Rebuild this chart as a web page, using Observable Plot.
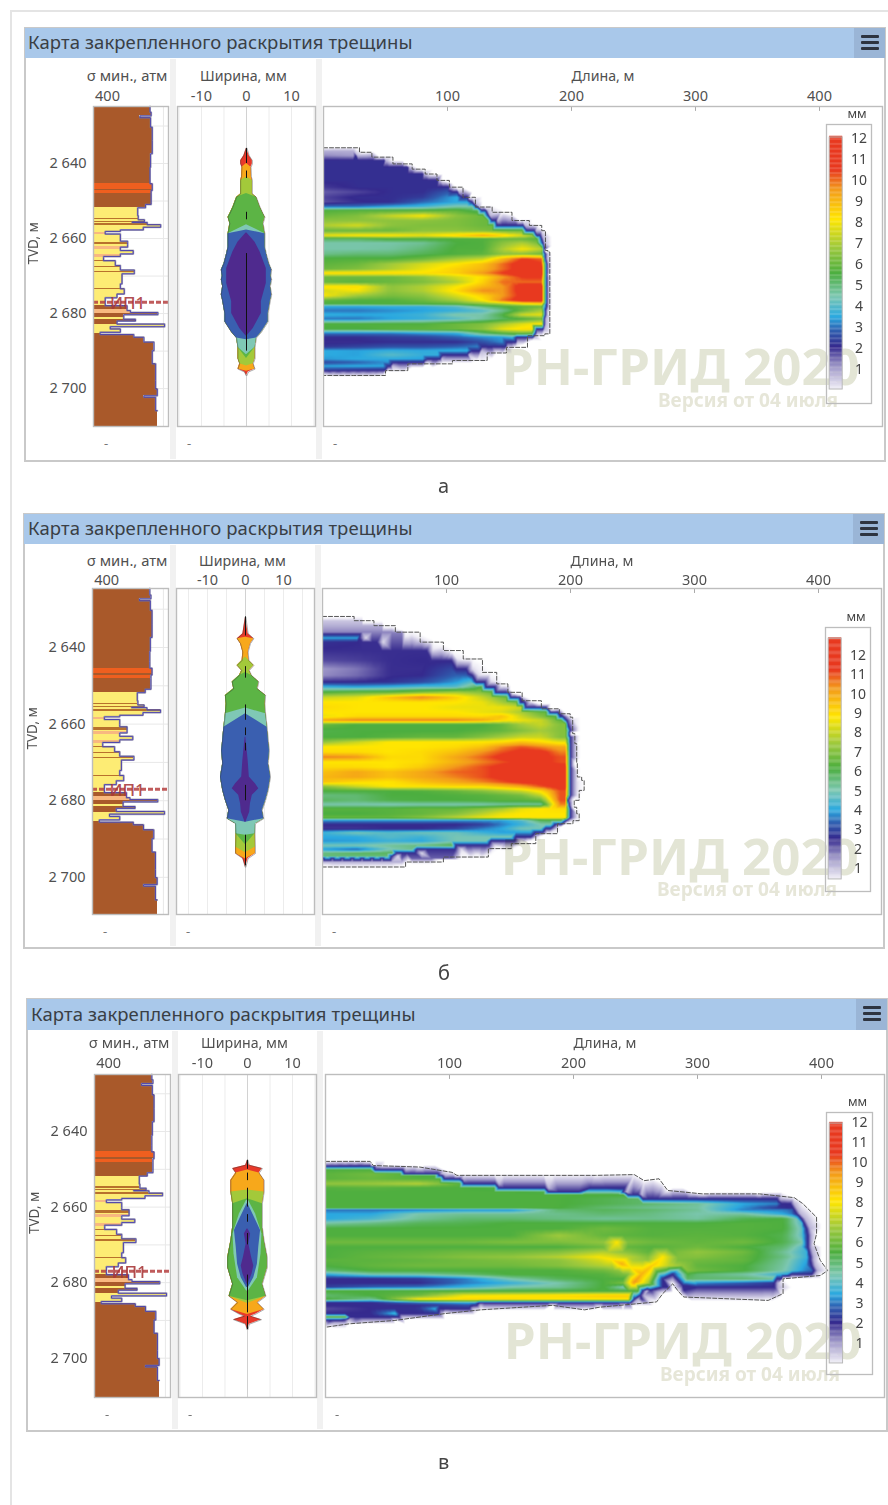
<!DOCTYPE html>
<html lang="ru"><head><meta charset="utf-8">
<script src="https://cdn.jsdelivr.net/npm/d3@7"></script>
<script src="https://cdn.jsdelivr.net/npm/@observablehq/plot@0.6"></script>
<style>
html,body{margin:0;padding:0;background:#fff}
#page{position:relative;width:888px;height:1505px;overflow:hidden;font-family:"Noto Sans",sans-serif;color:#444;filter:blur(.35px)}
#page>*{position:absolute}
.plotbox{position:absolute}
.plotbox svg{display:block;overflow:visible}
</style></head><body><div id="page"></div>
<script>
// ---------- well log (same well on all three maps) ----------
const sigmaDepth=[2624,2625.2,2626.3,2627.3,2627.8,2630.3,2633.9,2637.4,2641,2643.6,2645.4,2647.2,2650.3,2650.9,2651.8,2653.9,2655,2655.6,2655.7,2656.3,2657,2657.7,2658.1,2658.8,2660.1,2660.7,2662.3,2663.2,2664.1,2664.8,2665.9,2667.2,2668.4,2669.4,2672.1,2673.4,2674.8,2675.8,2677,2677.9,2679.2,2679.7,2680.3,2681.5,2682,2682.8,2683.5,2684.1,2685,2685.6,2686.3,2687.6,2689.9,2693.4,2697.9,2700.1,2701.9,2702.3,2705.9,2711];
const sigmaAtm=[476,476,478,458,477,480,480,477,476,476,480,478,478,468,454,455,466,444,471,495,464,423,396,423,423,436,423,446,423,393,414,423,448,426,423,430,417,396,396,435,441,490,429,450,417,502,405,423,387,447,465,483,480,486,486,489,465,486,489,492];
const lithTop=[2624,2645.4,2646.8,2647.3,2648.1,2651.8,2654.6,2655,2655.4,2655.7,2656.1,2656.6,2658.3,2658.9,2661,2661.6,2662,2662.8,2664.3,2665.1,2665.9,2666.1,2667.5,2667.8,2668.7,2669,2673.3,2673.6,2677.9,2679,2680,2681,2681.6,2683,2685.3];
const lithColor=["#a9592a","#ef5f1f","#a9592a","#ef5f1f","#a9592a","#fdec74","#b8712c","#fdec74","#b8712c","#fdec74","#b8712c","#fdec74","#f8b880","#fdec74","#b8712c","#fdec74","#f8b880","#fdec74","#f8b880","#fdec74","#b8712c","#fdec74","#b8712c","#fdec74","#b8712c","#fdec74","#b8712c","#fdec74","#a9592a","#f8b880","#a9592a","#fdec74","#a9592a","#fdec74","#a9592a"];
const depthTicks=[2640,2660,2680,2700], depthGrid=[2630,2640,2650,2660,2670,2680,2690,2700];
const widthTicks=[-10,0,10], widthGrid=[-15,-10,-5,5,10,15], lengthTicks=[100,200,300,400], lengthMarks=[0,100,200,300,400];
const legendTicks=[1,2,3,4,5,6,7,8,9,10,11,12];
// ---------- colour bar ----------
const rampFraction=[0,.086,.166,.23,.285,.364,.457,.56,.67,.79,.867,1];
const rampColor=["#eeecf5","#9f98c9","#352a8e","#2f5fb0","#2ba9e0","#7cc7b2","#4cae3f","#9ec93c","#ffe600","#f39a1b","#e8391f","#e8391f"];
const layerColor=["#e8392a","#f7a81b","#a3c93a","#5cb445","#7fc8b5","#3a5fb0","#4f2a8e"];
// ---------- width profiles: [depth, half width mm] ----------
const outlineA=[[2635.9,.1],[2637.9,.6],[2639.2,1.3],[2640.1,1.3],[2641,1],[2643.6,1.1],[2644.5,1.3],[2648.1,1.3],[2649,2.2],[2651.6,3],[2653.4,3.7],[2654.3,4.1],[2656,3.7],[2658.7,4.1],[2660,4.1],[2662.3,4.1],[2664,4.4],[2666.7,5],[2668.4,5.6],[2670,5.4],[2671,5.6],[2672.8,5.3],[2675,5.6],[2676.6,5.3],[2680,4.8],[2682.2,4.8],[2685,3.3],[2686.5,2.2],[2689,1.9],[2692,1.9],[2693.4,1.5],[2694.8,1.9],[2695.6,.4],[2696.5,.1]];
const bandTopA=[2635.9,2640,2643.6,2648,2656.3,2657.7], bandBottomA=[2696.5,2695.4,2694,2692,2691,2687];
const coreA=[[2658.5,.1],[2661,1.9],[2663.5,3],[2668,4.4],[2672,4.4],[2676.8,3.3],[2680,3.3],[2684,1.5],[2686,.1]];
const stemA=[[2636,2640],[2642,2644],[2653,2655],[2664,2690]];
const outlineB=[[2632.1,.1],[2636.4,.7],[2637.7,2.2],[2639,1.3],[2641.2,.7],[2643.4,.9],[2644.7,2.2],[2646,1],[2647.3,1.6],[2649,3.5],[2650.8,3.1],[2652.5,5.3],[2654.7,5.1],[2657.3,5.3],[2660.8,5.7],[2665.1,6.1],[2666.9,6.3],[2670.3,6],[2673.8,6.6],[2677.3,6],[2679.9,5.3],[2682.5,4.4],[2684.7,4.8],[2686,2.6],[2688.6,2.5],[2692.1,2.6],[2693.8,2.6],[2695.1,.7],[2697.3,.1]];
const bandTopB=[2632.1,2637.3,2642.5,2646.5,2655.8,2657.3], bandBottomB=[2697.3,2695.2,2693.6,2691.5,2689,2685.6];
const coreB=[[2663.4,.1],[2669.5,.7],[2673.8,1],[2675.6,2.6],[2676.9,3.5],[2678.6,1.8],[2680.8,1.3],[2683,1.1],[2685.6,.1]];
const stemB=[[2632,2637],[2645,2648],[2655,2659],[2661,2663],[2665,2667],[2676,2680],[2689,2697]];
const outlineC=[[2647.6,.1],[2648.9,.4],[2649.8,3.3],[2651,2.6],[2652.9,3.7],[2656,3.7],[2659.1,3.3],[2665.3,3.3],[2668.9,3.7],[2673.3,4.4],[2676,4.4],[2680.4,3.3],[2683.6,4.1],[2685.3,2.2],[2687.1,3.7],[2688.3,1.9],[2688.9,.7],[2689.8,3.1],[2691,.4],[2692.4,.1]];
const bandTopC=[2647.6,2650.2,2655.5,2657.8], bandBottomC=[2692.4,2688.4,2685.5,2684.8];
const tealC=[[2658.2,.2],[2661.8,1.8],[2667.1,3.2],[2672.4,3],[2678.7,2.2],[2682.2,.2]];
const blueC=[[2659.1,.1],[2663.6,1.9],[2666.2,2.9],[2670.7,2.5],[2675.1,2.2],[2678.7,1.4],[2681.3,.2]];
const coreC=[[2665.8,.1],[2667.1,.7],[2669.8,.3],[2673.3,.9],[2675.6,1.4],[2677.8,1],[2680.4,.1]];
const stemC=[[2647.6,2650],[2651,2653],[2655,2660],[2662,2664],[2667,2670],[2678,2688],[2689,2692.4]];
// ---------- proppant map a ----------
const stationsA=[0,27,54,80,107,129,145,161,177];
const depthA=[2636.7,2637.9,2639.2,2641,2642.8,2644.5,2646.3,2647.6,2649,2650.3,2651.5,2652.5,2653.9,2655.2,2656.5,2657.9,2659.2,2660.1,2661.2,2662.8,2664.1,2665.4,2666.8,2668.1,2669.2,2670.3,2671.6,2672.8,2673.9,2675.2,2676.5,2677.4,2678.1,2679.2,2680.3,2681.4,2682.8,2684.1,2685.3,2686.3,2687.6,2688.8,2689.9,2691,2692.1,2693,2694,2695,2695.8];
const tipA=[0,26,49,68,80,92,101,108,116,120,124,131,133,139,161,170,175,176,177,178,179,179,180,180,180,180,180,180,180,180,180,180,180,179,179,178,178,177,171,169,155,147,126,116,94,81,54,50,0];
const gridA=[[.8],[1.2,1],[2.1,2.1],[2.1,2.1,2.1],[2.1,2.1,2.1],[2.1,2.1,2.1,2.1],[1.9,2.1,2.1,2.1],[1.6,1.8,2.1,2.1,2.9],[1.8,2.1,2.1,2.3,3.5],[1.7,2,2.1,2.9,3.5],[3,3,3.5,3.8,4.5],[5.6,5.7,5.6,5.6,5.8,5],[6,6.3,7.3,8,6.5,6],[6.5,6.5,6.5,6.5,6.3,6],[7,7.5,6.5,6.3,6.3,6,6,5.8],[6,6,6,6.5,6.5,6.3,6,6,5.5],[7.8,8.1,8.1,7.8,8.5,9.3,8.5,7.5,6],[5.2,5.2,5.6,5.6,5.6,5.6,6,6,5.6],[4.5,4.5,4.5,4.7,5.5,5.6,6.5,7,6],[4.5,4.5,4.6,5,5.6,5.6,7,8,7],[4.8,5,5,5.3,5.6,5.8,6.5,6.5,6],[5.6,5.6,5.6,6,6.8,7.3,9,10.5,10],[5.8,6,6.8,7.5,8.1,8.8,10,11,10.5],[6,6.3,7,7.8,8.5,9,10,11,11],[8.3,8.3,8.3,8.2,8.5,9.5,10.5,11,11],[6,6,6,6.5,7.5,8.2,9.5,10.5,10.5],[6,5.8,6,6.3,7,8.5,10,10,10],[8.2,8.3,6.5,7,8,9,9.5,11,11],[7.5,8,6.5,7,8.3,9.7,9.5,11,11],[8,6.8,6.2,6.5,7.6,8.5,9.5,10.8,11],[5.8,5.6,5.6,6,6.8,8.1,10,11,11],[5.5,5.5,5.6,5.6,5.8,6.5,7,8.1,8.5],[3.5,3.5,3.6,3.6,4,5,5.5,5.8,6],[3,3,3.2,3.4,3.6,4,4.8,6,7],[3.6,3.5,3.5,3.7,4.5,4.5,5.5,7.5,7.8],[3,3,3.4,3.6,4,4.6,5.2,5.6,6.2],[5.6,5.6,5.6,5.6,6,6.3,7,7.7,8.2],[5.5,5.5,5.7,5.8,6,6.5,7.8,8.3,8.3],[3,3,3,3.3,3.5,5,5.6,6,5.5],[2.1,2.1,2.3,2.4,2.8,3.2,3.4,4.2,5],[2,2,2.1,2.1,2.1,2.6,3.2,3.4],[2.2,2.4,2.6,2.6,2.8,3.2,3.6],[3.5,3.4,3.6,3.5,3.6,3.5],[3.5,3.4,4,3.6,3.6],[3.3,3.5,3.5,3.4],[2.5,2.8,3.3,3.4],[3.4,3.5,3.4],[2.5,2.3,2.2],[1]];
const dashA=[[0,2635.8],[26,2635.8],[32,2637],[46,2638.3],[66,2640.1],[77,2641.5],[87,2642.8],[96,2644.5],[107,2646.3],[118,2649],[127,2651.6],[145,2653],[159,2655.2],[173,2656.5],[179,2657.9],[179,2663.2],[183,2663.6],[182,2669.4],[183,2673],[182,2680.1],[183,2685.4],[174,2685.9],[155,2689],[140,2690.5],[124,2692.5],[84,2693.4],[52,2695.2],[48,2696.5],[0,2696.5]];
// ---------- proppant map b ----------
const stationsB=[0,27,54,80,107,129,145,161,177,191];
const depthB=[2633,2634.3,2636,2637.5,2638.6,2640.8,2643.4,2645.6,2647.3,2649,2650.3,2651.7,2653,2654.3,2655.6,2656.9,2658,2659,2660.1,2661.7,2663.4,2664.7,2666,2667.3,2668.6,2669.9,2671.2,2672.5,2673.8,2675.1,2676.3,2677.5,2678.6,2679.9,2681,2682.1,2683.4,2684.4,2685.1,2686.2,2687.3,2688.3,2689.5,2690.5,2691.7,2692.7,2693.7,2694.5,2695.1,2696];
const tipB=[0,0,0,30,44,84,104,116,121,131,139,150,159,163,182,190,194,197,198,200,200,200,200,200,200,200,200,200,200,200,200,200,200,198,199,200,200,200,197,193,184,178,168,155,134,107,75,56,0,0];
const gridB=[[.9],[1.2],[1.7],[3.9,3.9],[2.6,2.5],[2.46,2.46,2.46,3.9],[2.2,2.3,2.46,2.5],[1.5,1.8,2.46,2.46,3],[1.6,1.9,2.46,2.5,3.3],[2.5,2.5,2.6,3,3.8,5],[4.2,4,4.2,4.5,4.5,6.1,6.1],[6.2,6.5,6.5,7,7.5,7,6.1],[8,8.3,9.5,10.5,9.3,8,6.8,6],[8.8,8.8,8.8,8.8,8.8,8.5,7.5,6.5],[9,8.8,8.8,8.8,8.5,8.5,8.5,8,7],[8.8,8.8,8.8,8.8,8.8,8.5,8.3,7.5,6.5],[8.5,9,9,9,9,9,9.5,8,7,6],[10,10.5,10.5,10.5,10.5,10,9,8.5,8,6.5],[6.6,6.1,6.1,6.1,6.1,6.1,6.5,7.5,8,7],[6,6.1,6.1,6.1,6.1,6.3,6.5,7,7.5,7],[6.1,6.1,6.3,6.5,6.5,7,7.5,8,8,7],[7.2,8,8.8,8.8,8.8,8.8,9,9.5,9,8.5],[8.8,8.8,8.8,8.8,9,9.5,10.5,11,10.5,10],[9,9,8.8,9,9.5,10.3,11,11.5,11.5,10.5],[10.5,10.3,9,9,10,10.8,11.5,11.5,11.5,11],[8.8,8.8,8.8,9,9.8,10.5,11,11.5,11.5,11],[9,9,8.8,9.3,10.3,11,11.5,11.5,11.5,11.5],[9.5,10,9.5,10,10.8,11,11.5,11.5,11.5,11.5],[9.7,10,9.5,10,10.5,11,11.5,11.5,11.5,11.5],[9.5,9,8.8,9.5,10,10.5,11,11.5,11.5,11.5],[7,8,8.8,8.8,9,9,9.5,10,11,11.5],[6.1,6.1,6.1,6.2,6.5,7,7.5,8,9,11],[5.5,5.6,6.1,6.1,6.2,6.3,6.5,6.8,8,11],[5.8,5.6,6,6.1,6.1,6.2,6.3,6.3,6.5,11],[5,5,4.9,5,5,5,5.2,5.2,5.2,10.5],[6.3,6.3,6.3,6.5,6.5,7,7.5,8.5,8.8,9],[6.1,6.1,6.3,6.5,7,7.8,8.5,8.8,8.8,8.8],[6.5,6.5,6.5,7,7.8,8.5,8.8,8.8,8.8,8.8],[3.9,3.9,3.9,3.9,3.9,3.9,3.9,4.5,6],[2.5,2.5,2.5,2.5,2.46,2.8,3.6,4.2,5],[2.4,2.4,2.5,2.5,2.9,3.6,4,4.9],[4.2,4.9,4.5,4.8,4.8,4.2,3.9],[4,4,4.5,4.2,4.9,4.9],[3.8,3.9,4.2,4,4.9,4.9,5],[4.9,4.9,5.2,5.5,6],[3.9,3.3,4.9,5.5],[5.5,5.8,5.8],[5.5,5.5],[2],[1.2]];
const dashB=[[0,2631.9],[18,2631.9],[33,2633],[50,2634.3],[67.5,2636],[90,2638.6],[105,2640.8],[122,2643],[136,2646.5],[145,2649.5],[154,2651.7],[168,2653.9],[185,2656],[197,2657.3],[202.5,2658.2],[201,2662.5],[206,2665.1],[204,2670.3],[207,2673.8],[211,2674.7],[211,2677.3],[203,2679.9],[203,2681.7],[207,2683.4],[207,2685.2],[197,2686],[182,2688.6],[162,2691.2],[142.5,2692.5],[125,2694.7],[70,2696],[64,2697.3],[0,2697.3]];
// ---------- proppant map c ----------
const stationsC=[0,37.5,75,112.5,150,187.5,225,262.5,300,337.5,370,391];
const depthC=[2648.6,2649.2,2650.1,2651.2,2651.6,2652.5,2653.8,2654.9,2656,2656.7,2657.8,2659.1,2660.2,2660.7,2661.8,2663.1,2664.3,2665.7,2667.5,2669.3,2670.6,2671.9,2673.2,2674.1,2675.5,2676.8,2677.8,2679,2680.1,2681.2,2682.2,2683.4,2684.4,2685.3,2686,2686.9,2688.2,2689.1,2689.8,2690.6];
const tipC=[0,39,62,91,94,108,137,177,240,252,364,375,377,378,380,384,386,388,389,389,389,390,391,391,392,394,392,375,362,362,256,254,249,246,122,116,91,59,16,0];
const gridC=[[1],[2,2.2],[5.5,5.5],[5.7,6,5.5],[5.7,6,5.5],[5.7,5.9,5.6,5.5],[6.5,6.6,7,5.5,5.5],[5.6,5.7,5.5,5.5,5.3,5.5],[5.5,5.5,5.5,5.5,5.5,5.3,5.5],[5.5,5.5,5.5,5.5,5.5,5.5,5.5],[5.5,5.5,5.5,5.5,5.5,5.5,5.3,5,2.4,2,2],[5.5,5.5,5.5,5.5,5.5,5.5,5.3,5,4.6,3.4,3,2.2],[5.5,5.5,5.5,5.5,5.5,5.5,5,4.7,4.5,3.2,2,2],[2.9,2.9,3,3.2,3.2,5,5.2,5,4.6,3,3,2],[3.4,3.4,4.4,4.6,4.6,4.7,5,4.8,4.4,4.5,3.4,2],[3.4,3.8,4.6,5,5,4.8,4.6,4.7,4.5,5.3,5.5,2.8],[4.5,4.8,5.2,5.3,5.5,5.5,5.5,5.5,5.5,5.6,5.5,3],[5.5,5.5,5.5,5.5,5.5,5.5,6,5.6,5.6,5.6,5.5,3.4],[5.5,5.5,5.5,5.5,5.5,6.7,5.8,5.6,5.7,5.6,5.3,3.4],[6,6,6,6,6.2,6.2,6.5,6,5.8,6,5.3,4],[5.5,5.5,5.5,5.5,5.5,5.5,6,5.6,6,5.5,5,3.4],[5.5,5.7,5.8,6,6,6.3,7,5.7,6.5,6,4.6,3.4],[5.5,5.8,6,6.3,6.5,7,8,6.2,6.3,5.8,4.8,3.4],[5.7,5.7,5.8,6,6.2,6.4,7.5,6.5,6,5.8,4.6,3.2],[5.5,5.8,6,6,6,6.3,7,8,5.8,5.5,4.5,3],[5,5.5,5.5,5.5,5.5,5.5,6,7.5,6,5.5,4.4,2.8],[3.5,4.4,4.5,5,5.5,5.5,5.6,7,5,4.5,3.5,2.2],[2,2,2.2,3,4.4,5.2,5.5,5.5,5,5,4.5,2],[2,2,2,3,3.6,4.4,5.5,7,3.2,2.7,2],[2.3,2.8,3,3.6,4.4,4.6,5.5,2.5,2,2,2],[5.5,5.5,5.5,5.5,5.5,5.5,5.5],[5,5.5,6,7.8,8,8.2,8.5],[5.5,4.6,8,8.3,8.2,8,8],[2,2,3,3.5,3.4,3.2,3],[2,2,2,2.5],[1.7,2,2.1,6],[2,2,5.5],[5.5,5.5],[2.5],[.8]];
const dashC=[[0,2647.9],[36,2647.9],[38.6,2649],[76,2649.4],[102,2650.8],[106,2651.6],[217.5,2651.6],[249,2651.4],[257,2653],[269,2652.5],[276,2655.6],[304,2656.5],[350,2656.5],[378,2657.5],[385,2659.1],[396,2662.7],[396,2667.1],[394,2669.7],[399,2674.1],[405,2676.8],[399,2678.1],[369,2679],[369,2682.9],[357,2684.7],[289,2683.8],[285,2682.5],[280,2680.3],[272,2682.9],[267,2685.1],[221,2686.5],[209,2687.2],[183,2686],[125,2687.2],[96,2688.2],[56,2690],[19,2690.9],[0,2691.8]];
const extraC=[[280,2677.7,2.2],[272,2679,2],[262.5,2682,2],[255,2684.3,2],[288,2680.7,2],[289,2682,2],[214,2654.9,2],[226,2654.9,2],[240.5,2655.2,2.2],[239,2675,9],[230,2673.8,8],[246,2676,8],[235,2669.3,8],[255,2677.7,9],[263.5,2675.5,8.5],[272,2673.2,8],[249,2679.9,9.5]];

const fontFamily='"Noto Sans",sans-serif', inkColor="#505050", frameColor="#bdbdbd", outsideValue=-.2;
const tickFmt=d=>String(d).replace(/(\d)(\d{3})$/,"$1 $2");
const band=(sil,top,bot)=>[[top,0],...sil.filter(p=>p[0]>top+.3&&p[0]<bot-.3),[bot,0]];
const page=document.getElementById("page");
function box(css,text){const e=document.createElement("div");e.style.cssText="position:absolute;"+css;if(text)e.textContent=text;page.appendChild(e);return e}
function mount(svg,left,top){const w=document.createElement("div");w.className="plotbox";w.style.left=left+"px";w.style.top=top+"px";w.appendChild(svg);page.appendChild(w)}
const baseStyle=()=>({background:"transparent",fontFamily,fontSize:"14.5px",color:inkColor});

function colorScale(lo,hi){return{type:"linear",clamp:true,domain:[outsideValue,...rampFraction.map(f=>lo+f*(hi-lo))],range:["#ffffff",...rampColor]}}

function logTrack(p){
  const knots=[...new Set([...sigmaDepth,...lithTop,p.dTop,p.dBot])].filter(d=>d>=p.dTop&&d<=p.dBot).sort(d3.ascending);
  const segs=d3.pairs(knots).map(([a,b])=>({a,b,atm:sigmaAtm[d3.bisectRight(sigmaDepth,a)-1],fill:lithColor[d3.bisectRight(lithTop,a)-1]}));
  const curve=segs.map(s=>[s.atm,s.a]);
  const left=p.logL-72,mt=p.top-p.axisTop;
  mount(Plot.plot({width:p.logR-left+1,height:p.bottom-p.axisTop+1,marginLeft:p.logL-left,marginRight:1,marginTop:mt,marginBottom:1,style:baseStyle(),
    x:{domain:[375,509],axis:null},y:{domain:[p.dBot,p.dTop],axis:null},color:{type:"identity"},
    marks:[
      Plot.ruleY(depthGrid,{stroke:"#e8e8e8"}),Plot.ruleX([500],{stroke:"#e8e8e8"}),
      Plot.rect(segs,{x1:()=>375,x2:"atm",y1:"a",y2:"b",fill:"fill",shapeRendering:"crispEdges"}),
      Plot.line(curve,{x:"0",y:"1",curve:"step-before",stroke:"#807f8c",strokeWidth:2,strokeOpacity:.6}),
      Plot.line(curve,{x:"0",y:"1",curve:"step-before",stroke:"#4f45ad",strokeWidth:1}),
      Plot.ruleY([2677],{stroke:"#b5403f",strokeWidth:3,strokeDasharray:"5,2",strokeOpacity:.85}),
      Plot.text(["ИП1"],{x:()=>436,y:()=>2677.3,fill:"#a8383a",fontSize:17,fontWeight:500,fillOpacity:.9}),
      Plot.frame({stroke:frameColor,strokeWidth:1.4}),
      Plot.axisX({anchor:"top",ticks:[400],tickSize:0,tickPadding:p.tickPad,label:null,tickFormat:String}),
      Plot.axisY({anchor:"left",ticks:depthTicks,tickSize:0,tickPadding:7,label:null,tickFormat:tickFmt}),
      Plot.text(["σ мин., атм"],{frameAnchor:"top-right",dy:p.labDy,dx:-1,fontSize:14.8}),
      Plot.text(["TVD, м"],{frameAnchor:"left",rotate:-90,dx:-60,dy:-2,fontSize:13.5})
    ]}),left,p.axisTop);
}
function widthTrack(p){
  const area=(pts,fill)=>Plot.areaX(pts,{y:d=>d[0],x1:d=>-d[1],x2:d=>d[1],fill});
  mount(Plot.plot({width:p.wR-p.wL+2,height:p.bottom-p.axisTop+1,marginLeft:1,marginRight:1,marginTop:p.top-p.axisTop,marginBottom:1,style:baseStyle(),
    x:{domain:p.wDom,axis:null},y:{domain:[p.dBot,p.dTop],axis:null},
    marks:[
      Plot.ruleX(widthGrid,{stroke:"#ececec"}),Plot.ruleX([0],{stroke:"#d2d2d2"}),
      ...p.layers.map(l=>area(l[0],l[1])),
      Plot.lineX(p.sil,{x:d=>d[1],y:d=>d[0],stroke:"#3a3a3a",strokeWidth:.6,strokeOpacity:.7}),
      Plot.lineX(p.sil,{x:d=>-d[1],y:d=>d[0],stroke:"#3a3a3a",strokeWidth:.6,strokeOpacity:.7}),
      Plot.ruleX(p.stem,{x:()=>0,y1:"0",y2:"1",stroke:"#111",strokeWidth:1}),
      Plot.frame({stroke:frameColor,strokeWidth:1.4}),
      Plot.axisX({anchor:"top",ticks:widthTicks,tickSize:0,tickPadding:p.tickPad,label:null,tickFormat:String}),
      Plot.text(["Ширина, мм"],{frameAnchor:"top",dy:p.labDy,dx:-3,fontSize:14.2})
    ]}),p.wL-1,p.axisTop);
}
function mapTrack(p){
  const pts=[],inside=(x,y)=>d3.polygonContains(p.dash,[x,y]);
  const extra=p.extra||[];
  const nearExtra=(x,y)=>extra.some(q=>Math.abs(q[0]-x)<9&&Math.abs(q[1]-y)<1.4);
  p.depths.forEach((d,i)=>{
    const tip=p.tips[i],row=p.grid[i];
    if(!tip){for(let x=0;x<450;x+=8)if(inside(x,d))pts.push({x,y:d,v:row[0]});return}
    // a part of the row with no coloured row next to it lies on the fracture edge
    const limit=Math.min(p.tips[i-1]||Infinity,p.tips[i+1]||Infinity);
    const along=d3.scaleLinear(p.stations.slice(0,row.length),row).clamp(true);
    // the raster mesh follows each row closely, so the read values vary along the rows and not across them
    for(let x=0;x<tip-1;x+=4){
      if(inside(x,d)&&!nearExtra(x,d))pts.push({x,y:d,v:x>limit?p.edge:(row.length>1?along(x):row[0])});
    }
    if(inside(tip,d))pts.push({x:tip,y:d,v:p.edge});
    if(inside(tip+p.fade,d))pts.push({x:tip+p.fade,y:d,v:.7});
  });
  p.dash.forEach(q=>pts.push({x:q[0],y:q[1],v:outsideValue}));
  extra.forEach(q=>pts.push({x:q[0],y:q[1],v:q[2]}));
  // everything beyond the dashed contour stays blank
  for(let x=0;x<=451;x+=8)for(let y=p.dTop;y<=p.dBot;y+=1.2)if(!inside(x,y))pts.push({x,y,v:outsideValue});
  mount(Plot.plot({width:p.mR-p.mL+2,height:p.bottom-p.axisTop+1,marginLeft:1,marginRight:1,marginTop:p.top-p.axisTop,marginBottom:1,style:baseStyle(),
    x:{domain:[0,450.8],axis:null},y:{domain:[p.dBot,p.dTop],axis:null},color:colorScale(p.lo,p.hi),
    marks:[
      Plot.raster(pts,{x:"x",y:"y",fill:"v",interpolate:"barycentric",x1:0,x2:450.8,y1:p.dBot,y2:p.dTop}),
      Plot.line(p.dash,{x:"0",y:"1",curve:p.dashCurve,stroke:"#555",strokeWidth:1,strokeDasharray:"4,2"}),
      Plot.text(["РН-ГРИД 2020"],{x:()=>144,y:()=>p.wm1,textAnchor:"start",fontSize:51,fontWeight:700,fill:"#dcdecb",fillOpacity:.8,mixBlendMode:"multiply"}),
      Plot.text(["Версия от 04 июля"],{x:()=>415,y:()=>p.wm2,textAnchor:"end",fontSize:19,fontWeight:700,fill:"#e6e6d8",mixBlendMode:"multiply"}),
      Plot.ruleX(lengthMarks,{y1:()=>p.dTop,y2:()=>p.dTop+1.3,stroke:"#aaa"}),
      Plot.frame({stroke:frameColor,strokeWidth:1.4}),
      Plot.axisX({anchor:"top",ticks:lengthTicks,tickSize:0,tickPadding:p.tickPad,label:null,tickFormat:String}),
      Plot.text(["Длина, м"],{frameAnchor:"top",dy:p.labDy,fontSize:14.2})
    ]}),p.mL-1,p.axisTop);
}
function legend(p){
  const [bl,br,bt,bb]=p.legBox, pxPer=(p.leg1-p.leg12)/11;
  const val=y=>12+(p.leg12-y)/pxPer;
  const steps=d3.range(p.lo,p.hi,.06);
  mount(Plot.plot({width:br-bl+2,height:bb-bt+24,marginLeft:1,marginRight:1,marginTop:22,marginBottom:1,style:baseStyle(),
    x:{domain:[0,1],axis:null},y:{domain:[val(bb),val(bt)],axis:null},color:colorScale(p.lo,p.hi),
    marks:[
      Plot.rect(steps,{x1:()=>.07,x2:()=>.36,y1:d=>d,y2:d=>d+.07,fill:d=>d}),
      Plot.rect([0],{x1:()=>.07,x2:()=>.36,y1:()=>p.lo,y2:()=>p.hi,stroke:"#b9b9b9",fill:"none"}),
      Plot.text(legendTicks,{x:()=>.72,y:d=>d,text:String,fontSize:14,fill:"#444"}),
      Plot.text(["мм"],{frameAnchor:"top",dy:-15,dx:8,fontSize:12.5,fill:"#444"}),
      Plot.frame({stroke:frameColor,strokeWidth:1.3})
    ]}),bl-1,bt-22);
}
function panel(p){
  box(`left:${p.x0}px;top:${p.y0}px;width:${p.x1-p.x0}px;height:${p.y1-p.y0}px;border:2px solid #c9c9c9;box-sizing:border-box;background:#fff`);
  box(`left:${p.x0+1}px;top:${p.y0+1}px;width:${p.x1-p.x0-2}px;height:${p.hh}px;background:#a9c8ea`);
  box(`left:${p.x1-32}px;top:${p.y0+1}px;width:31px;height:${p.hh}px;background:#9ab5d6`);
  [6.5,12.5,18.5].forEach(o=>box(`left:${p.x1-25}px;top:${p.y0+1+o}px;width:18px;height:3px;background:#2e3440;border-radius:1px`));
  box(`left:${p.titleX}px;top:${p.y0+1}px;height:${p.hh}px;line-height:${p.hh-2}px;font-size:18.5px;letter-spacing:.08px;color:#3a3f45;white-space:nowrap`,"Карта закрепленного раскрытия трещины");
  box(`left:${p.logR+2}px;top:${p.y0+p.hh+2}px;width:6px;height:${p.y1-p.y0-p.hh-5}px;background:#f1f1f1`);
  box(`left:${p.wR+1}px;top:${p.y0+p.hh+2}px;width:6px;height:${p.y1-p.y0-p.hh-5}px;background:#f1f1f1`);
  logTrack(p);widthTrack(p);mapTrack(p);legend(p);
  [p.logL+11,p.wL+10,p.mL+10].forEach(x=>box(`left:${x}px;top:${p.bottom+8}px;font-size:13px;color:#777`,"-"));
  box(`left:438px;top:${p.capY}px;font-size:20px;line-height:26px;color:#444`,p.cap);
}
box("left:10px;top:10px;width:878px;height:1.5px;background:#e4e4e4");
box("left:10px;top:10px;width:1.5px;height:1495px;background:#e4e4e4");

panel({x0:24,x1:886,y0:27,y1:462,hh:30,titleX:28,axisTop:60,top:106,bottom:426,dTop:2624.8,dBot:2710.1,tickPad:6,labDy:-36,
  logL:93,logR:168,wL:177,wR:315,wDom:[-15.33,15.33],mL:323,mR:882,cap:"а",capY:473,
  sil:outlineA,stem:stemA,
  layers:[...bandTopA.map((t,i)=>[band(outlineA,t,bandBottomA[i]),layerColor[i]]),[coreA,layerColor[6]]],
  depths:depthA,tips:tipA,grid:gridA,stations:stationsA,dash:dashA,dashCurve:"step",edge:2.1,fade:1.5,lo:.04,hi:12.05,
  legBox:[826,871,124,402],leg12:138,leg1:368,wm1:2694.7,wm2:2703.2});
panel({x0:23,x1:885,y0:513,y1:949,hh:30,titleX:28,axisTop:542,top:588,bottom:914,dTop:2624.6,dBot:2709.7,tickPad:4,labDy:-33,
  logL:92,logR:168,wL:176,wR:314,wDom:[-18.16,18.16],mL:322,mR:881,cap:"б",capY:960,
  sil:outlineB,stem:stemB,
  layers:[...bandTopB.map((t,i)=>[band(outlineB,t,bandBottomB[i]),layerColor[i]]),[coreB,layerColor[6]]],
  depths:depthB,tips:tipB,grid:gridB,stations:stationsB,dash:dashB,dashCurve:"step",edge:2.46,fade:5,lo:.43,hi:12.88,
  legBox:[825,870,627,890],leg12:655,leg1:867,wm1:2695,wm2:2703.4});
panel({x0:26,x1:888,y0:998,y1:1432,hh:31,titleX:31,axisTop:1028,top:1074,bottom:1397,dTop:2624.9,dBot:2710.4,tickPad:7,labDy:-37,
  logL:94,logR:170,wL:178,wR:316,wDom:[-15.33,15.33],mL:325,mR:884,cap:"в",capY:1449,
  sil:outlineC,stem:stemC,
  layers:[...bandTopC.map((t,i)=>[band(outlineC,t,bandBottomC[i]),layerColor[i]]),[tealC,layerColor[4]],[blueC,layerColor[5]],[coreC,layerColor[6]]],
  depths:depthC,tips:tipC,grid:gridC,stations:stationsC,dash:dashC,extra:extraC,dashCurve:"linear",edge:2,fade:3,lo:0,hi:11.95,
  legBox:[826,872,1112,1373],leg12:1122,leg1:1342,wm1:2695.8,wm2:2704.3});
</script></body></html>
